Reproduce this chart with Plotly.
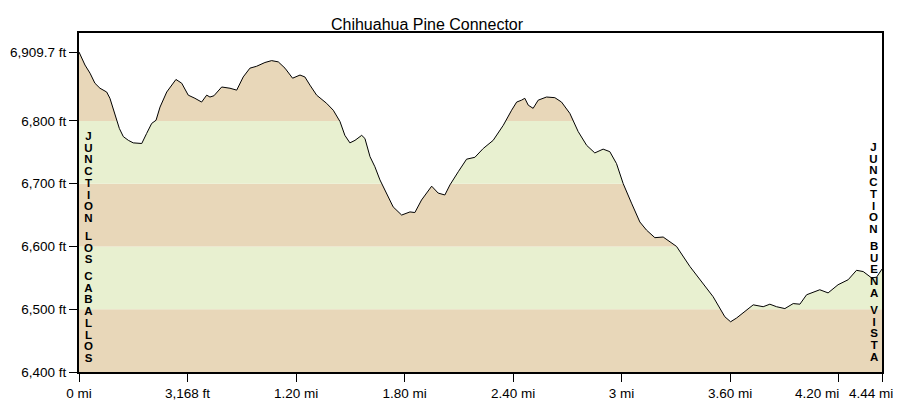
import plotly.graph_objects as go

# ---------------- data ----------------
title_text = "Chihuahua Pine Connector"

distance_mi = [
    0.000, 0.033, 0.061, 0.088, 0.116, 0.153, 0.171, 0.199, 0.223, 0.245,
    0.273, 0.300, 0.347, 0.374, 0.402, 0.426, 0.448, 0.485, 0.536, 0.568,
    0.604, 0.641, 0.678, 0.706, 0.724, 0.746, 0.789, 0.835, 0.872, 0.908,
    0.945, 0.982, 1.028, 1.065, 1.102, 1.139, 1.181, 1.222, 1.249, 1.277,
    1.314, 1.369, 1.406, 1.443, 1.470, 1.498, 1.526, 1.563, 1.581, 1.609,
    1.636, 1.664, 1.701, 1.737, 1.784, 1.830, 1.857, 1.894, 1.950, 1.986,
    2.023, 2.051, 2.097, 2.143, 2.189, 2.235, 2.290, 2.346, 2.392, 2.420,
    2.447, 2.465, 2.484, 2.511, 2.539, 2.585, 2.631, 2.668, 2.714, 2.760,
    2.807, 2.852, 2.898, 2.935, 2.972, 3.009, 3.055, 3.101, 3.138, 3.184,
    3.230, 3.304, 3.378, 3.451, 3.506, 3.571, 3.603, 3.636, 3.682, 3.728,
    3.783, 3.820, 3.857, 3.903, 3.949, 3.986, 4.023, 4.096, 4.142, 4.197,
    4.253, 4.299, 4.336, 4.382, 4.410, 4.440,
]

elevation_ft = [
    6909.7, 6889, 6876, 6860, 6852, 6846, 6836, 6812, 6788, 6775,
    6769, 6765, 6764, 6780, 6796, 6801, 6822, 6846, 6866, 6860,
    6841, 6836, 6830, 6841, 6838, 6840, 6854, 6852, 6849, 6870,
    6884, 6887, 6893, 6896, 6894, 6884, 6868, 6873, 6870, 6857,
    6841, 6828, 6817, 6799, 6777, 6765, 6769, 6777, 6772, 6743,
    6727, 6706, 6685, 6663, 6650, 6655, 6654, 6674, 6696, 6685,
    6682, 6698, 6719, 6739, 6742, 6756, 6769, 6793, 6817, 6830,
    6833, 6836, 6825, 6820, 6833, 6838, 6837, 6830, 6812, 6783,
    6761, 6749, 6755, 6751, 6732, 6700, 6669, 6639, 6626, 6614,
    6615, 6600, 6568, 6541, 6520, 6488, 6480, 6486, 6496, 6507,
    6504, 6508, 6504, 6501, 6509, 6508, 6523, 6531, 6526, 6539,
    6547, 6562, 6560, 6550, 6551, 6564,
]

x_tick_vals = [0, 0.6, 1.2, 1.8, 2.4, 3.0, 3.6, 4.2, 4.44]
x_tick_text = ["0 mi", "3,168 ft", "1.20 mi", "1.80 mi", "2.40 mi",
               "3 mi", "3.60 mi", "4.20 mi", "4.44 mi"]

y_tick_vals = [6400, 6500, 6600, 6700, 6800, 6909.7]
y_tick_text = ["6,400 ft", "6,500 ft", "6,600 ft", "6,700 ft",
               "6,800 ft", "6,909.7 ft"]

band_edges = [6400, 6500, 6600, 6700, 6800, 6940]

start_label = "JUNCTION LOS CABALLOS"
end_label = "JUNCTION BUENA VISTA"

# ---------------- style ----------------
TAN = "#e8d7b9"
GREEN = "#e8f0d0"
FONT = "Liberation Sans, Arial, sans-serif"
TICK_SIZE = 13.5
Y_MIN, Y_MAX = 6400, 6940
X_MIN, X_MAX = 0, 4.44

PAGE_OFF = 8                     # default body margin of the html page
W, H = 905 - PAGE_OFF, 415 - PAGE_OFF
M_L, M_R, M_T, M_B = 79 - PAGE_OFF, 23, 33 - PAGE_OFF, 43
PLOT_H = H - M_T - M_B
PLOT_W = W - M_L - M_R


def px_to_paper_x(x_page):
    return (x_page - PAGE_OFF - M_L) / PLOT_W


def px_to_paper_y(y_page):
    return (H - M_B - (y_page - PAGE_OFF)) / PLOT_H


fig = go.Figure()

# white area above the profile (covers the background bands)
fig.add_trace(go.Scatter(
    x=distance_mi, y=[Y_MAX] * len(distance_mi), mode="lines",
    line=dict(width=0, color="white"), hoverinfo="skip", showlegend=False))
fig.add_trace(go.Scatter(
    x=distance_mi, y=elevation_ft, mode="lines",
    line=dict(color="black", width=1), fill="tonexty", fillcolor="white",
    showlegend=False))

# alternating elevation bands
shapes = []
for i in range(len(band_edges) - 1):
    shapes.append(dict(
        type="rect", xref="paper", yref="y", x0=0, x1=1,
        y0=band_edges[i], y1=band_edges[i + 1],
        fillcolor=TAN if i % 2 == 0 else GREEN, line=dict(width=0),
        layer="below"))

annotations = []

LETTER_STEP = 11.7               # px between stacked letters
WORD_STEP = 17.0                 # px between last/first letters of words
BASE_SIZE = LETTER_STEP / 1.3    # plotly line spacing is 1.3 em
GLYPH_SIZE = 11.5


# vertical stacked letter labels (one multi-line annotation per word)
def stack_words(text, x_page, y_first_page):
    y = y_first_page
    for word in text.split(" "):
        n = len(word)
        y_last = y + (n - 1) * LETTER_STEP
        lines = "<br>".join(
            f"<span style='font-size:{GLYPH_SIZE}px'><b>{c}</b></span>"
            for c in word)
        annotations.append(dict(
            text=lines, xref="paper", yref="paper",
            x=px_to_paper_x(x_page), y=px_to_paper_y((y + y_last) / 2),
            xanchor="center", yanchor="middle", showarrow=False,
            font=dict(family=FONT, size=BASE_SIZE, color="black")))
        y = y_last + WORD_STEP


stack_words(start_label, 88.5, 136.5)
stack_words(end_label, 873.5, 147.0)

# last two x tick labels are nudged left (as in the original) to avoid overlap
shifted = {4.2: -22, 4.44: -11}
tick_text_axis = []
for v, t in zip(x_tick_vals, x_tick_text):
    if v in shifted:
        tick_text_axis.append("")
        annotations.append(dict(
            text=t, xref="x", yref="paper", x=v, y=0, yshift=-21,
            xshift=shifted[v], xanchor="center", yanchor="middle",
            showarrow=False,
            font=dict(family=FONT, size=TICK_SIZE, color="black")))
    else:
        tick_text_axis.append(t)

axis_common = dict(
    showline=True, linecolor="black", linewidth=2, mirror=True,
    ticks="outside", ticklen=8, tickwidth=1, tickcolor="black",
    showgrid=False, zeroline=False, automargin=False, tickangle=0,
    tickfont=dict(family=FONT, size=TICK_SIZE, color="black"))

fig.update_layout(
    width=W, height=H,
    margin=dict(l=M_L, r=M_R, t=M_T, b=M_B, autoexpand=False),
    paper_bgcolor="white", plot_bgcolor="white",
    title=dict(text=title_text, x=(427 - PAGE_OFF) / W, xanchor="center",
               y=1 - 16 / H, yanchor="middle", xref="container",
               yref="container",
               font=dict(family=FONT, size=16, color="black")),
    xaxis=dict(range=[X_MIN, X_MAX], tickvals=x_tick_vals,
               ticktext=tick_text_axis, **axis_common),
    yaxis=dict(range=[Y_MIN, Y_MAX], tickvals=y_tick_vals,
               ticktext=y_tick_text, **axis_common),
    shapes=shapes, annotations=annotations,
    showlegend=False, hovermode=False,
)

fig.write_html("out.html")
